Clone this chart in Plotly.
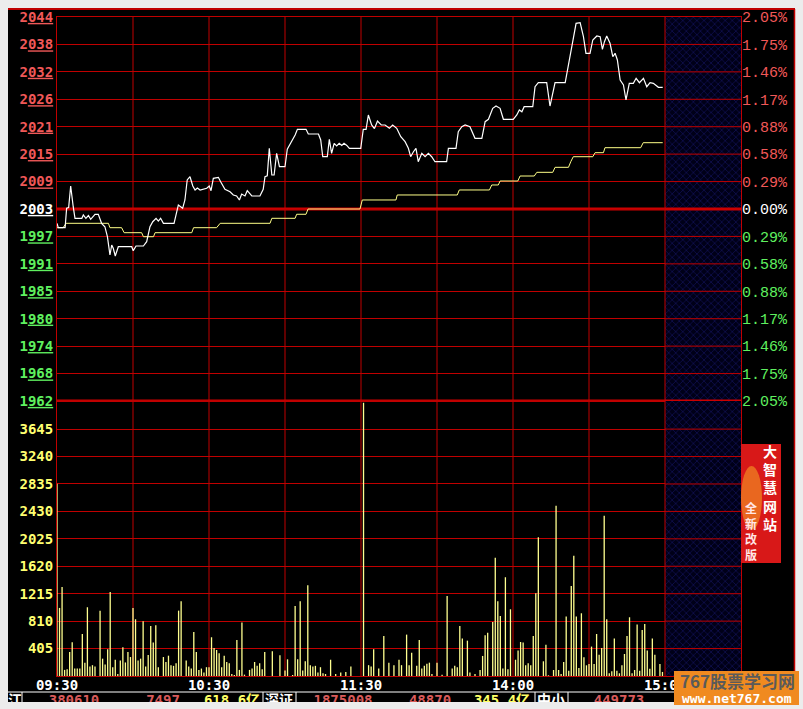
import plotly.graph_objects as go

# ---------------- data ----------------
prev_close = 2003.0
price_ticks = [1961.91, 1967.78, 1973.65, 1979.52, 1985.39, 1991.26, 1997.13, 2003.00,
               2008.87, 2014.74, 2020.61, 2026.48, 2032.35, 2038.22, 2044.09]
price_labels = ["1962", "1968", "1974", "1980", "1985", "1991", "1997", "2003",
                "2009", "2015", "2021", "2026", "2032", "2038", "2044"]
pct_labels = ["2.05%", "1.75%", "1.46%", "1.17%", "0.88%", "0.58%", "0.29%", "0.00%",
              "0.29%", "0.58%", "0.88%", "1.17%", "1.46%", "1.75%", "2.05%"]
vol_ticks = [405, 810, 1215, 1620, 2025, 2430, 2835, 3240, 3645]
vol_labels = ["405", "810", "1215", "1620", "2025", "2430", "2835", "3240", "3645"]
time_ticks = [0, 30, 60, 90, 120, 150, 180, 210, 240, 270]
time_labels = ["09:30", "", "10:30", "", "11:30", "", "14:00", "", "15:00", ""]

# minute index (0 = 09:30, lunch break removed) and price
price_min = [0, 0.5, 3.2, 3.8, 4.6, 5.4, 6.4, 7.1, 9.8, 10.4,
             11.4, 12.4, 13.3, 15.0, 16.3, 17.6, 18.9, 19.9, 20.9, 21.6,
             22.2, 23.0, 24.2, 29.5, 30.1, 31.2, 34.1, 35.4, 36.7, 37.8,
             39.1, 40.0, 40.9, 42.0, 46.2, 47.0, 47.9, 48.8, 49.6, 50.5,
             51.4, 52.5, 53.6, 54.5, 55.4, 56.5, 59.1, 60.1, 60.8, 61.7,
             63.7, 64.6, 66.3, 68.3, 69.6, 70.9, 72.0, 72.9, 74.2, 75.1,
             76.2, 76.9, 80.1, 81.4, 82.1, 83.0, 83.8, 84.8, 85.7, 86.7,
             87.8, 90.0, 90.9, 92.7, 94.0, 94.9, 98.3, 99.2, 103.2, 104.1,
             104.9, 106.7, 107.5, 108.4, 109.4, 110.4, 111.4, 112.4, 113.3, 114.4,
             115.4, 119.9, 120.9, 122.0, 122.9, 124.2, 125.3, 126.5, 128.0, 129.5,
             131.2, 132.5, 134.1, 135.7, 137.4, 138.7, 139.6, 140.7, 141.7, 142.6,
             144.0, 145.3, 146.6, 147.9, 149.2, 153.8, 154.5, 157.5, 158.4, 159.8,
             161.1, 163.0, 165.0, 167.7, 169.0, 170.3, 172.0, 173.3, 174.9, 176.2,
             180.1, 181.5, 182.5, 183.5, 184.4, 187.8, 188.7, 190.0, 193.3, 194.6,
             196.6, 200.6, 201.5, 203.2, 204.9, 206.5, 207.8, 208.8, 210.4, 211.5,
             213.1, 214.4, 215.3, 216.1, 217.0, 218.3, 219.4, 220.3, 221.2, 222.3,
             223.6, 224.6, 225.9, 227.5, 228.6, 229.9, 231.5, 232.8, 234.1, 235.4,
             237.4, 239.1]
price_val = [1999.94, 1999.0, 1999.0, 2003.15, 2003.3, 2007.92, 2003.49, 2001.01, 2001.01, 2001.72,
             2001.01, 2001.6, 2000.8, 2001.87, 2001.87, 1999.94, 1999.21, 1997.07, 1993.16, 1995.30,
             1994.6, 1992.94, 1994.93, 1994.93, 1994.08, 1995.08, 1995.08, 1996.0, 1999.21, 2000.28,
             2001.01, 2000.4, 2001.01, 1999.94, 1999.94, 2001.72, 2003.86, 2003.5, 2003.15, 2004.93,
             2009.21, 2009.91, 2007.92, 2007.07, 2007.5, 2007.07, 2007.43, 2007.92, 2006.92, 2009.57,
             2009.78, 2008.84, 2007.22, 2006.70, 2006.0, 2005.8, 2004.93, 2006.21, 2005.8, 2006.92,
             2006.3, 2005.78, 2005.78, 2007.22, 2009.91, 2010.1, 2015.99, 2010.28, 2010.28, 2014.92,
             2012.05, 2012.05, 2015.78, 2017.40, 2018.84, 2020.06, 2020.06, 2019.05, 2019.05, 2017.77,
             2014.19, 2014.19, 2017.92, 2014.92, 2017.06, 2016.5, 2017.06, 2016.6, 2017.06, 2016.6,
             2015.99, 2015.99, 2020.06, 2020.06, 2023.12, 2020.98, 2020.2, 2021.8, 2020.98, 2020.98,
             2020.27, 2020.98, 2020.27, 2018.47, 2017.40, 2015.99, 2014.19, 2015.26, 2015.99, 2013.12,
             2014.92, 2014.19, 2014.92, 2014.19, 2013.12, 2013.12, 2015.99, 2015.99, 2019.54, 2020.61,
             2020.98, 2020.61, 2018.13, 2018.13, 2021.68, 2022.20, 2024.55, 2025.04, 2024.55, 2022.20,
             2022.20, 2023.12, 2024.19, 2023.8, 2024.89, 2024.89, 2029.17, 2030.03, 2030.03, 2025.04,
             2030.03, 2030.03, 2032.75, 2038.46, 2042.74, 2042.87, 2039.87, 2036.32, 2036.32, 2039.17,
             2040.02, 2039.87, 2037.18, 2038.80, 2040.02, 2038.46, 2035.59, 2036.32, 2034.89, 2030.61,
             2029.54, 2026.33, 2029.90, 2029.90, 2030.97, 2030.03, 2030.97, 2029.17, 2030.03, 2029.9,
             2029.04, 2029.04]

avg_min = [0, 2.4, 3.6, 20.3, 20.9, 25.5, 26.5, 33.4, 34.1, 38.1,
           38.7, 53.2, 53.9, 63.0, 64.4, 84.1, 84.8, 94.0, 94.6, 98.3,
           99.1, 119.6, 120.5, 133.8, 134.3, 158.0, 158.8, 170.7, 171.6, 174.2,
           174.9, 181.9, 182.8, 188.4, 189.4, 195.7, 196.6, 201.9, 202.8, 203.8,
           211.5, 212.4, 215.7, 216.3, 230.4, 231.4, 239.1]
avg_val = [1999.0, 1999.0, 1999.94, 1999.94, 1999.0, 1999.0, 1997.93, 1997.93, 1997.07, 1997.07,
           1997.93, 1997.93, 1999.0, 1999.0, 1999.94, 1999.94, 2001.01, 2001.01, 2001.87, 2001.87,
           2003.0, 2003.0, 2004.93, 2004.93, 2006.0, 2006.0, 2007.07, 2007.07, 2008.14, 2008.14,
           2008.99, 2008.99, 2010.06, 2010.06, 2010.85, 2010.85, 2011.92, 2011.92, 2013.12, 2014.19,
           2014.19, 2015.05, 2015.05, 2016.12, 2016.12, 2017.19, 2017.19]

vol_min = [0, 1, 2, 3, 4, 5, 6, 7, 8, 9, 10, 11, 12, 13, 14, 15,
           17, 18, 19, 20, 21, 22, 23, 24, 25, 26, 27, 28, 29, 30, 31, 32,
           33, 34, 35, 36, 37, 38, 39, 40, 42, 43, 44, 45, 46, 47, 48, 49,
           51, 52, 53, 54, 55, 56, 57, 58, 59, 60, 61, 62, 63, 64, 65, 66,
           67, 68, 69, 70, 71, 72, 73, 74, 76, 77, 78, 79, 80, 81, 82, 85,
           88, 90, 91, 93, 94, 95, 96, 97, 98, 99, 100, 101, 102, 103, 104, 105,
           106, 108, 110, 112, 114, 116, 121, 123, 124, 125, 127, 129, 131, 133, 135, 136,
           138, 139, 140, 142, 143, 144, 145, 146, 147, 148, 150, 152, 154, 156, 157, 158,
           159, 160, 162, 163, 165, 167, 168, 169, 170, 172, 173, 174, 175, 176, 177, 178,
           179, 181, 182, 183, 184, 185, 186, 187, 188, 189, 190, 192, 193, 194, 196, 197,
           198, 199, 200, 201, 202, 203, 204, 205, 206, 207, 208, 209, 210, 211, 212, 213,
           214, 215, 216, 217, 218, 219, 220, 221, 222, 223, 224, 225, 226, 227, 228, 229,
           230, 231, 232, 233, 234, 235, 236, 238, 239]
vol_val = [2838, 1005, 1315, 90, 100, 355, 500, 110, 110, 110, 620, 197, 1015, 140, 160, 140,
           965, 256, 170, 394, 1241, 130, 240, 30, 230, 424, 200, 355, 280, 1005, 838, 230,
           256, 808, 140, 310, 739, 493, 749, 130, 280, 207, 300, 160, 150, 190, 965, 1104,
           230, 140, 110, 650, 355, 90, 110, 50, 130, 130, 572, 414, 384, 335, 130, 300,
           207, 190, 30, 15, 532, 90, 789, 20, 90, 110, 207, 150, 190, 100, 355, 365,
           306, 80, 246, 15, 1035, 246, 1104, 80, 217, 1340, 160, 140, 150, 50, 130, 40,
           30, 240, 30, 50, 60, 140, 4035, 160, 140, 394, 110, 591, 197, 160, 240, 160,
           611, 160, 345, 150, 532, 110, 150, 180, 197, 30, 197, 20, 1182, 110, 150, 130,
           739, 552, 522, 50, 30, 90, 296, 601, 640, 798, 1744, 1104, 887, 110, 1458, 100,
           985, 240, 375, 502, 493, 160, 190, 160, 591, 1222, 2050, 217, 463, 10, 89, 2513,
           89, 30, 207, 877, 79, 1330, 1774, 877, 118, 926, 276, 158, 177, 434, 177, 620,
           315, 414, 2365, 838, 40, 70, 552, 79, 40, 158, 325, 591, 867, 40, 89, 759,
           79, 680, 769, 375, 108, 552, 315, 177, 60]

status_text = ["江", "380610", "7497", "618.6亿", "深证", "1875008", "48870", "345.4亿", "中小", "449773"]
status_colors = ["#ffffff", "#d85a5a", "#d85a5a", "#ffff66", "#ffffff", "#d85a5a", "#d85a5a",
                 "#ffff66", "#ffffff", "#d85a5a"]
status_x = [15, 74, 163, 232, 279, 343, 430, 502, 551, 619]

assert len(price_min) == len(price_val)
assert len(avg_min) == len(avg_val)
assert len(vol_min) == len(vol_val)

# ---------------- geometry helpers ----------------
W, H = 803, 709
ML, MR, MT, MB = 8, 8, 9, 7
PW, PH = W - ML - MR, H - MT - MB


def fx(px):
    return (px - ML) / PW


def fy(py):
    return (H - MB - py) / PH


X_L, X_R = 57, 741
Y_TOP, Y_MID, Y_BOT, Y_STAT = 17, 401, 676, 692

GRID = "#c00000"
THICK = "#cc0000"
RED_T = "#f05858"
GREEN_T = "#5ff05f"
YEL_T = "#ffff70"
SESSION_END, AXIS_END = 240, 270
VOL_TOP = 4060

p_lo, p_hi = price_ticks[0], price_ticks[-1]


def colored(v):
    if abs(v - prev_close) < 0.01:
        return "#ffffff"
    return RED_T if v > prev_close else GREEN_T


price_text = ['<span style="color:%s">%s<span style="text-decoration:underline">%s</span></span>'
              % (colored(v), s[0], s[1:]) for v, s in zip(price_ticks, price_labels)]
pct_text = ['<span style="color:%s">%s</span>' % (colored(v), s) for v, s in zip(price_ticks, pct_labels)]
vol_text = ['<span style="color:%s">%s</span>' % (YEL_T, s) for s in vol_labels]

vx, vy = [], []
for m, v in zip(vol_min, vol_val):
    vx += [m, m, None]
    vy += [0, v, None]

fig = go.Figure()

hatch = dict(shape="x", fgcolor="#2828a8", bgcolor="#000018", size=5, solidity=0.22)
fig.add_trace(go.Scatter(x=[SESSION_END, AXIS_END, AXIS_END, SESSION_END, SESSION_END],
                         y=[p_lo, p_lo, p_hi, p_hi, p_lo], fill="toself", mode="lines",
                         line=dict(width=0), fillcolor="#000018", fillpattern=hatch,
                         xaxis="x", yaxis="y", hoverinfo="skip"))
fig.add_trace(go.Scatter(x=[SESSION_END, AXIS_END, AXIS_END, SESSION_END, SESSION_END],
                         y=[0, 0, VOL_TOP, VOL_TOP, 0], fill="toself", mode="lines",
                         line=dict(width=0), fillcolor="#000018", fillpattern=hatch,
                         xaxis="x2", yaxis="y2", hoverinfo="skip"))

fig.add_trace(go.Scatter(x=avg_min, y=avg_val, mode="lines", line=dict(color="#ffff88", width=1),
                         xaxis="x", yaxis="y", hoverinfo="skip"))
fig.add_trace(go.Scatter(x=price_min, y=price_val, mode="lines", line=dict(color="#ffffff", width=1.2),
                         xaxis="x", yaxis="y", hoverinfo="skip"))
# invisible companion so the right-hand percentage axis gets drawn
fig.add_trace(go.Scatter(x=price_min, y=price_val, mode="lines", line=dict(width=0), opacity=0,
                         xaxis="x", yaxis="y3", hoverinfo="skip"))
fig.add_trace(go.Scatter(x=vx, y=vy, mode="lines", line=dict(color="#ffff90", width=1.3),
                         xaxis="x2", yaxis="y2", hoverinfo="skip", connectgaps=False))
fig.add_trace(go.Scatter(x=status_x, y=[0.6] * len(status_x), mode="text", text=status_text,
                         textfont=dict(color=status_colors, size=14,
                                       family="DejaVu Sans Mono, Noto Sans CJK SC", weight="bold"),
                         xaxis="x3", yaxis="y4", cliponaxis=True, hoverinfo="skip"))

xd = [fx(X_L), fx(X_R)]
lab_font = dict(family="DejaVu Sans Mono", size=14, color="#ffffff", weight="bold")
axis_common = dict(zeroline=False, automargin=False,
                   showline=True, linecolor=GRID, linewidth=1, mirror=True, ticks="")

fig.update_layout(
    width=W, height=H, margin=dict(l=ML, r=MR, t=MT, b=MB, pad=0, autoexpand=False),
    paper_bgcolor="#ececec", plot_bgcolor="rgba(0,0,0,0)", showlegend=False, hovermode=False,
    xaxis=dict(domain=xd, range=[0, AXIS_END], anchor="y", tickvals=time_ticks,
               showticklabels=False, showgrid=False, **axis_common),
    xaxis2=dict(domain=xd, range=[0, AXIS_END], anchor="y2", matches="x", tickvals=time_ticks,
                ticktext=time_labels, tickfont=lab_font, tickangle=0, ticklabelstandoff=-4,
                showgrid=False, **axis_common),
    yaxis=dict(domain=[fy(Y_MID), fy(Y_TOP)], range=[p_lo, p_hi], anchor="x",
               tickvals=price_ticks, ticktext=price_text, tickfont=lab_font,
               showgrid=True, gridcolor=GRID, gridwidth=1, **axis_common),
    yaxis3=dict(overlaying="y", side="right", anchor="x", range=[p_lo, p_hi],
                tickvals=price_ticks, ticktext=pct_text, automargin=False,
                tickfont=dict(family="Liberation Mono", size=15, color="#ffffff"),
                showgrid=False, zeroline=False, showline=False, ticks=""),
    yaxis2=dict(domain=[fy(Y_BOT), fy(Y_MID)], range=[0, VOL_TOP], anchor="x2",
                tickvals=vol_ticks, ticktext=vol_text, tickfont=lab_font,
                showgrid=True, gridcolor=GRID, gridwidth=1, **axis_common),
    xaxis3=dict(domain=[0, 1], range=[ML, W - MR], anchor="y4", visible=False, automargin=False),
    yaxis4=dict(domain=[0, fy(Y_STAT)], range=[0, 10], anchor="x3", visible=False, automargin=False),
)

shapes = []
# full black panel
shapes.append(dict(type="rect", xref="paper", yref="paper", x0=0, x1=1, y0=0, y1=1,
                   fillcolor="#000000", line=dict(width=0), layer="below"))
# vertical half-hour grid
for t in time_ticks[1:-1]:
    lay = "above" if t >= SESSION_END else "below"
    shapes.append(dict(type="line", xref="x", yref="y domain", x0=t, x1=t, y0=0, y1=1,
                       line=dict(color=GRID, width=1), layer=lay))
    shapes.append(dict(type="line", xref="x2", yref="y2 domain", x0=t, x1=t, y0=0, y1=1,
                       line=dict(color=GRID, width=1), layer=lay))
# thick reference lines (previous close and panel divider)
for yv in (prev_close, p_lo):
    shapes.append(dict(type="line", xref="x", yref="y", x0=0, x1=SESSION_END, y0=yv, y1=yv,
                       line=dict(color=THICK, width=3), layer="below"))
    shapes.append(dict(type="line", xref="x", yref="y", x0=SESSION_END, x1=AXIS_END, y0=yv, y1=yv,
                       line=dict(color=THICK, width=3), layer="above"))
# grid over the hatched after-close column
for yv in price_ticks[1:-1]:
    if abs(yv - prev_close) < 0.01:
        continue
    shapes.append(dict(type="line", xref="x", yref="y", x0=SESSION_END, x1=AXIS_END, y0=yv, y1=yv,
                       line=dict(color=GRID, width=1), layer="above"))
for yv in vol_ticks:
    shapes.append(dict(type="line", xref="x2", yref="y2", x0=SESSION_END, x1=AXIS_END, y0=yv, y1=yv,
                       line=dict(color=GRID, width=1), layer="above"))
# outer frame
shapes.append(dict(type="line", xref="paper", yref="paper", x0=0, x1=1, y0=1, y1=1,
                   line=dict(color="#c00000", width=2), layer="above"))
shapes.append(dict(type="line", xref="paper", yref="paper", x0=fx(794.5), x1=fx(794.5), y0=fy(Y_STAT), y1=1,
                   line=dict(color="#c00000", width=1.5), layer="above"))
# status row separators
shapes.append(dict(type="line", xref="paper", yref="paper", x0=0, x1=1, y0=fy(Y_STAT), y1=fy(Y_STAT),
                   line=dict(color="#ffffff", width=1), layer="above"))
for px in (22, 263, 296, 535, 568):
    shapes.append(dict(type="line", xref="paper", yref="paper", x0=fx(px), x1=fx(px),
                       y0=0, y1=fy(Y_STAT), line=dict(color="#ffffff", width=1), layer="above"))
# advertisement box
shapes.append(dict(type="rect", xref="paper", yref="paper", x0=fx(741), x1=fx(781), y0=fy(563), y1=fy(444),
                   fillcolor="#d81818", line=dict(width=0), layer="above"))
shapes.append(dict(type="circle", xref="paper", yref="paper", x0=fx(741), x1=fx(762), y0=fy(530), y1=fy(466),
                   fillcolor="rgba(255,200,40,0.45)", line=dict(width=0), layer="above"))
# watermark box
shapes.append(dict(type="rect", xref="paper", yref="paper", x0=fx(674), x1=fx(799), y0=fy(705), y1=fy(671),
                   fillcolor="#f08a20", line=dict(width=0), layer="above"))
fig.update_layout(shapes=shapes)

ann = [
    dict(xref="paper", yref="paper", x=fx(770), y=fy(487), text="<br>".join("大智慧网站"), showarrow=False,
         font=dict(family="Noto Sans CJK SC", size=14, color="#ffffff", weight="bold"),
         xanchor="center", yanchor="middle"),
    dict(xref="paper", yref="paper", x=fx(751), y=fy(531), text="<br>".join("全新改版"), showarrow=False,
         font=dict(family="Noto Sans CJK SC", size=12, color="#ffe6e6", weight="bold"),
         xanchor="center", yanchor="middle"),
    dict(xref="paper", yref="paper", x=fx(737), y=fy(680), text="767股票学习网", showarrow=False,
         font=dict(family="Noto Sans CJK SC", size=17, color="#5a5a5a", weight="bold"),
         xanchor="center", yanchor="middle"),
    dict(xref="paper", yref="paper", x=fx(737), y=fy(698), text="www.net767.com", showarrow=False,
         font=dict(family="DejaVu Sans Mono", size=13, color="#ffffff", weight="bold"),
         xanchor="center", yanchor="middle"),
]
fig.update_layout(annotations=ann)

fig.write_html("out.html", config={"displayModeBar": False},
               post_script="document.body.style.margin='0px';")
